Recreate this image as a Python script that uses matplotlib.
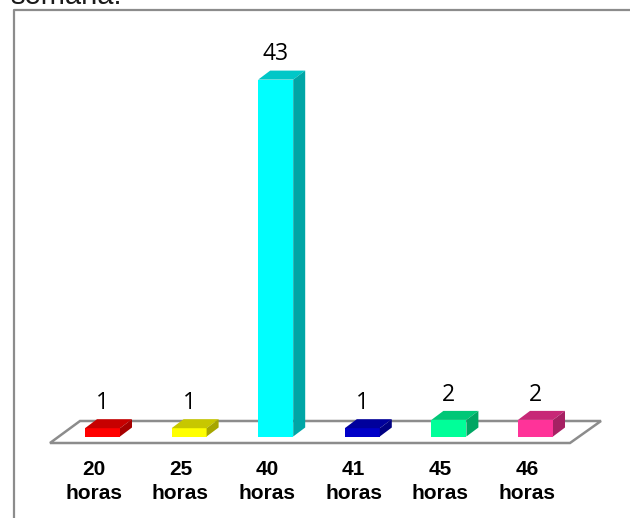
import matplotlib
matplotlib.use('Agg')
import matplotlib.pyplot as plt
from matplotlib.patches import Polygon, Rectangle
from matplotlib.colors import to_rgb

categories = ['20\nhoras', '25\nhoras', '40\nhoras', '41\nhoras', '45\nhoras', '46\nhoras']
values = [1, 1, 43, 1, 2, 2]
front_colors = ['#ff0000', '#ffff00', '#00ffff', '#0000c8', '#00ff99', '#ff3399']

W, H = 630, 518
# pixel scale of the value axis and category axis
px_cat = 86.6
px_val = 8.3
x0_px = 102.5
y0_px = 436.5

fig = plt.figure(figsize=(W / 100, H / 100), dpi=100)
ax = fig.add_axes([0, 0, 1, 1])
ax.set_xlim(-x0_px / px_cat, (W - x0_px) / px_cat)
ax.set_ylim((y0_px - H) / px_val, y0_px / px_val)
ax.axis('off')

bar_w = 35 / px_cat
dx = 12 / px_cat
dy = 9 / px_val

def shade(color, f):
    r, g, b = to_rgb(color)
    return (r * f, g * f, b * f)

# floor of the 3d box
floor_low = -6.5 / px_val
floor_high = 15.5 / px_val
ax.add_patch(Polygon([(-52.5 / px_cat, floor_low), (467.5 / px_cat, floor_low),
                      (498.5 / px_cat, floor_high), (-22.5 / px_cat, floor_high)],
                     closed=True, fc='white', ec='#8c8c8c', lw=1.8, zorder=1))

for i, (v, c) in enumerate(zip(values, front_colors)):
    l = i - 0.5 * bar_w
    r = l + bar_w
    ax.add_patch(Rectangle((l, 0), bar_w, v, fc=c, ec='none', zorder=3))
    ax.add_patch(Polygon([(l, v), (r, v), (r + dx, v + dy), (l + dx, v + dy)],
                         closed=True, fc=shade(c, 0.78), ec='none', zorder=3))
    ax.add_patch(Polygon([(r, 0), (r + dx, dy), (r + dx, v + dy), (r, v)],
                         closed=True, fc=shade(c, 0.65), ec='none', zorder=3))
    ax.text(i, v + 3.05, str(v), ha='center', va='center', fontsize=16.5,
            family='Open Sans', color='black', zorder=4)
    ax.text(i - 0.1, -45 / px_val, categories[i], ha='center', va='center', fontsize=15,
            family='Liberation Sans', fontweight='bold', linespacing=1.3, color='black')

# outer frame, open on the right and running off the bottom of the page
fig.add_artist(plt.Line2D([14 / W, 14 / W, 1], [0, 1 - 10 / H, 1 - 10 / H],
                          color='#8c8c8c', lw=1.6))
fig.text(10 / W, 1 - 4 / H, 'semana.', ha='left', va='baseline', fontsize=21,
         family='Liberation Sans', color='#1a1a1a')

fig.savefig('out.png', dpi=100)
